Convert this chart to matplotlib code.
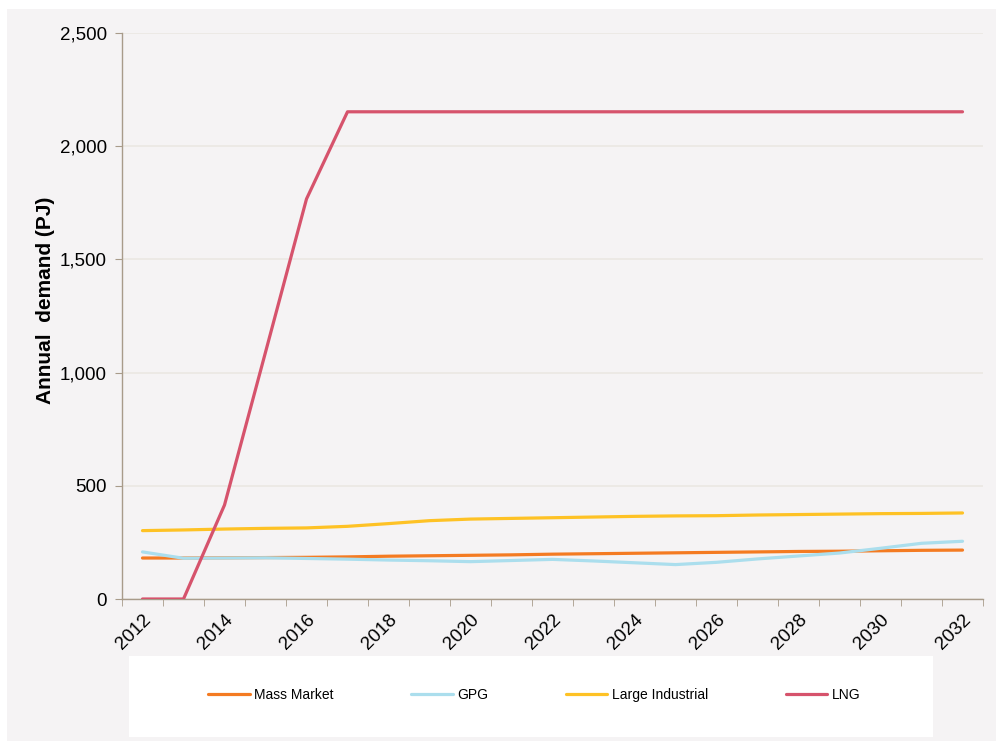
import matplotlib
matplotlib.use("Agg")
import matplotlib.pyplot as plt
from matplotlib.patches import Rectangle

plt.rcParams['font.family'] = ['Liberation Sans', 'DejaVu Sans']

years = list(range(2012, 2033))
mass_market = [181, 181, 182, 183, 184, 186, 189, 191, 193, 195, 198,
               200, 202, 204, 206, 208, 210, 211, 213, 215, 216]
gpg = [208, 180, 181, 182, 179, 176, 172, 169, 165, 170, 175,
       168, 160, 152, 162, 177, 190, 203, 224, 246, 255]
large_industrial = [302, 305, 309, 312, 314, 321, 333, 346, 353, 356, 359,
                    362, 365, 367, 368, 371, 373, 375, 377, 378, 380]
lng = [0, 0, 415, 1090, 1767, 2152, 2152, 2152, 2152, 2152, 2152,
       2152, 2152, 2152, 2152, 2152, 2152, 2152, 2152, 2152, 2152]

series_names = ["Mass Market", "GPG", "Large Industrial", "LNG"]
series_colors = ["#f47b22", "#abdeed", "#fec225", "#d6536c"]
series_values = [mass_market, gpg, large_industrial, lng]

y_ticks = [0, 500, 1000, 1500, 2000, 2500]

W, H = 996, 742
panel = "#f5f3f4"
fig = plt.figure(figsize=(W / 100, H / 100), dpi=100, facecolor="white")

# grey panel behind the whole chart
fig.patches.append(Rectangle((7 / W, 1 / H), (W - 7) / W, (741 - 9) / H,
                             transform=fig.transFigure, facecolor=panel,
                             edgecolor="none", zorder=-3))
# white legend box
fig.patches.append(Rectangle((129 / W, 1 - 737 / H), 804 / W, 81 / H,
                             transform=fig.transFigure, facecolor="white",
                             edgecolor="none", zorder=-2))

ax = fig.add_axes([122 / W, 1 - 599 / H, (983 - 122) / W, (599 - 33) / H])
ax.set_facecolor(panel)

x = list(range(len(years)))
handles = []
for name, vals, col in zip(series_names, series_values, series_colors):
    (h,) = ax.plot(x, vals, color=col, lw=2.3, solid_capstyle="round",
                   solid_joinstyle="round", label=name, zorder=3)
    handles.append(h)

ax.set_xlim(-0.5, len(years) - 0.5)
ax.set_ylim(0, 2500)

spine_col = "#a89b8a"
for s in ["top", "right"]:
    ax.spines[s].set_visible(False)
for s in ["left", "bottom"]:
    ax.spines[s].set_color(spine_col)
    ax.spines[s].set_linewidth(1.0)

ax.set_yticks(y_ticks)
ax.set_yticklabels([f"{v:,}" for v in y_ticks], fontsize=13.5)
ax.tick_params(axis="y", length=5, color=spine_col, pad=6)
ax.yaxis.grid(True, color="#ebe8e2", lw=1.2)
ax.set_axisbelow(True)

label_idx = [i for i, yr in enumerate(years) if yr % 2 == 0]
ax.set_xticks(label_idx)
ax.set_xticklabels([str(years[i]) for i in label_idx], fontsize=13.5,
                   rotation=45, ha="right", va="top", rotation_mode="anchor")
ax.tick_params(axis="x", which="major", length=0, pad=9)
ax.set_xticks([i - 0.5 for i in range(len(years) + 1)], minor=True)
ax.tick_params(axis="x", which="minor", length=5, color=spine_col)

ax.set_ylabel("Annual  demand (PJ)", fontsize=15, fontweight="bold")
ax.yaxis.set_label_coords(-0.078, 0.527)

leg = fig.legend(handles=handles, labels=series_names, loc="center",
                 bbox_to_anchor=(534 / W, 1 - 695 / H), ncol=4, frameon=False,
                 prop={"size": 10},
                 handlelength=3.0, handletextpad=0.3, columnspacing=5.6)
leg.set_zorder(5)

fig.savefig("out.png", dpi=100, facecolor=fig.get_facecolor())
